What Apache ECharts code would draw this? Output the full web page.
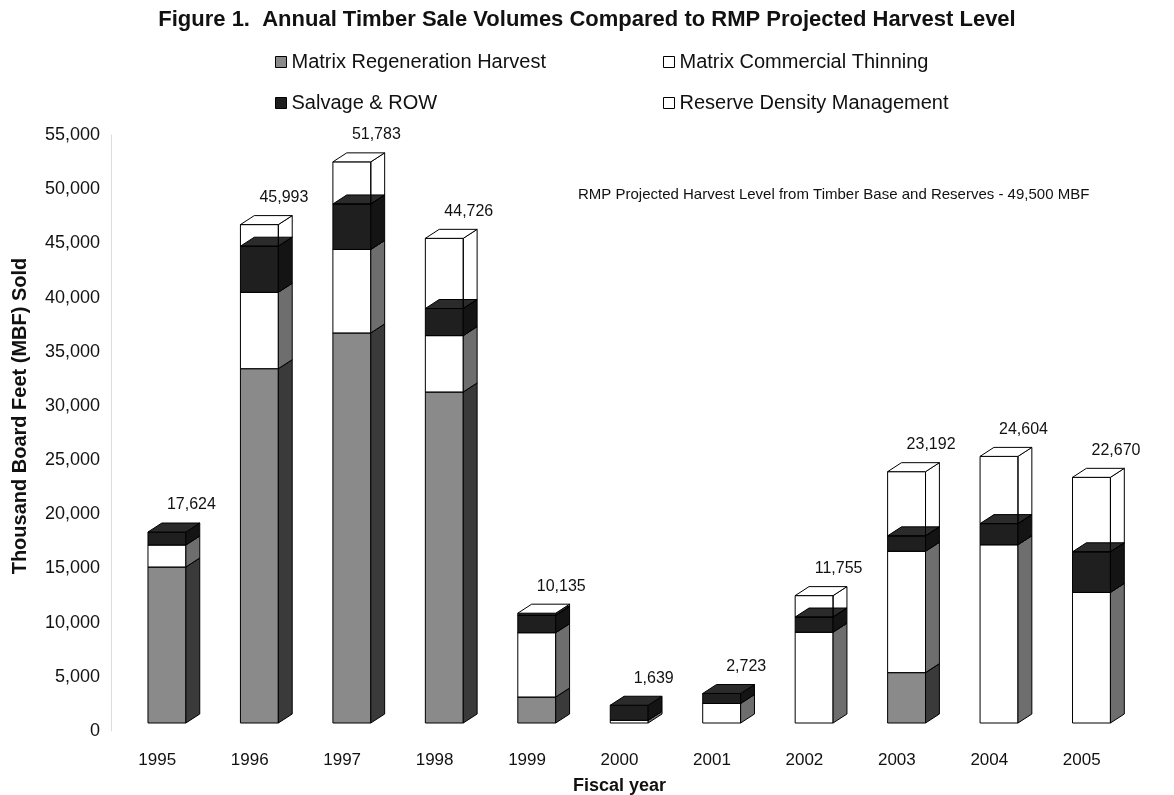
<!DOCTYPE html>
<html>
<head>
	<meta charset="utf-8">
	<title>Figure 1. Annual Timber Sale Volumes</title>
	<script src="https://cdn.jsdelivr.net/npm/echarts@6/dist/echarts.min.js"></script>
	<style type="text/css">
		html, body { margin: 0; padding: 0; background: #ffffff; }
		#chart { width: 1174px; height: 795px; }
	</style>
</head>
<body>
	<div id="chart"></div>
	<script type="text/javascript">
		// data (MBF)
		var years = ['1995', '1996', '1997', '1998', '1999', '2000', '2001', '2002', '2003', '2004', '2005'];
		var regen = [14400, 32700, 36000, 30550, 2400, 0, 0, 0, 4650, 0, 0];
		var thinning = [2030, 7050, 7700, 5200, 5935, 250, 1800, 8380, 11200, 16450, 12050];
		var salvage = [1194, 4250, 4200, 2500, 1600, 1389, 923, 1400, 1420, 1950, 3750];
		var reserve = [0, 1993, 3883, 6476, 200, 0, 0, 1975, 5922, 6204, 6870];
		var totals = [17624, 45993, 51783, 44726, 10135, 1639, 2723, 11755, 23192, 24604, 22670];
		var yTicks = [0, 5000, 10000, 15000, 20000, 25000, 30000, 35000, 40000, 45000, 50000, 55000];

		var FONT = '"Liberation Sans", Arial, sans-serif';

		// box geometry (fractions of the category band)
		function box(api, i, lo, hi) {
			var p0 = api.coord([i, lo]);
			var p1 = api.coord([i, hi]);
			var band = api.size([1, 0])[0];
			var w = band * 0.41;
			var x = p0[0] - band * 0.1;
			var dx = band * 0.15;
			var dy = 9;
			var lift = 8;
			return { x: x, w: w, dx: dx, dy: dy, yb: p0[1] - lift, yt: p1[1] - lift };
		}

		function makeRender(cols) {
			return function (params, api) {
				var i = api.value(0), lo = api.value(1), hi = api.value(2);
				if (hi - lo <= 0) return;
				var b = box(api, i, lo, hi);
				return {
					type: 'group',
					children: [
						{ type: 'rect', shape: { x: b.x, y: b.yt, width: b.w, height: b.yb - b.yt },
						  style: { fill: cols.front, stroke: '#000', lineWidth: 1 } },
						{ type: 'polygon', shape: { points: [[b.x + b.w, b.yb], [b.x + b.w + b.dx, b.yb - b.dy], [b.x + b.w + b.dx, b.yt - b.dy], [b.x + b.w, b.yt]] },
						  style: { fill: cols.side, stroke: '#000', lineWidth: 1 } },
						{ type: 'polygon', shape: { points: [[b.x, b.yt], [b.x + b.dx, b.yt - b.dy], [b.x + b.w + b.dx, b.yt - b.dy], [b.x + b.w, b.yt]] },
						  style: { fill: cols.top, stroke: '#000', lineWidth: 1 } }
					]
				};
			};
		}

		// stack bottom to top
		var stacks = [regen, thinning, salvage, reserve];
		function stackData(k) {
			var out = [];
			for (var i = 0; i < years.length; i++) {
				var base = 0;
				for (var s = 0; s < k; s++) base += stacks[s][i];
				out.push([i, base, base + stacks[k][i]]);
			}
			return out;
		}

		var names = ['Matrix Regeneration Harvest', 'Matrix Commercial Thinning', 'Salvage & ROW', 'Reserve Density Management'];
		var legendCols = ['#8a8a8a', '#ffffff', '#1e1e1e', '#ffffff'];
		var faces = [
			{ front: '#8a8a8a', side: '#3a3a3a', top: '#6a6a6a' },
			{ front: '#ffffff', side: '#6e6e6e', top: '#ffffff' },
			{ front: '#1f1f1f', side: '#141414', top: '#2b2b2b' },
			{ front: 'rgba(255,255,255,0)', side: 'rgba(255,255,255,0)', top: '#ffffff' }
		];

		var series = [];
		for (var k = 0; k < 4; k++) {
			series.push({
				name: names[k],
				type: 'custom',
				renderItem: makeRender(faces[k]),
				itemStyle: { color: legendCols[k], borderColor: '#000', borderWidth: 1 },
				encode: { x: 0, y: [1, 2] },
				data: stackData(k),
				z: 2
			});
		}
		var totalData = [];
		for (var i = 0; i < years.length; i++) totalData.push([i, 0, totals[i]]);
		series.push({
			name: 'Total',
			type: 'custom',
			renderItem: function (params, api) {
				var i = api.value(0), v = api.value(2);
				var b = box(api, i, 0, v);
				var band = api.size([1, 0])[0];
				return {
					type: 'text',
					style: {
						text: echarts.format.addCommas(v),
						x: api.coord([i, 0])[0] + band * 0.37,
						y: b.yt - 27,
						align: 'center', verticalAlign: 'middle',
						font: '16px ' + FONT, fill: '#111'
					}
				};
			},
			encode: { x: 0, y: [1, 2] },
			data: totalData,
			z: 3
		});

		var myChart = echarts.init(document.getElementById('chart'));
		var option = {
			backgroundColor: '#ffffff',
			animation: false,
			title: {
				text: 'Figure 1.  Annual Timber Sale Volumes Compared to RMP Projected Harvest Level',
				left: 'center',
				top: 4,
				textStyle: { fontFamily: FONT, fontSize: 22, fontWeight: 'bold', color: '#111' }
			},
			legend: [
				{
					left: 270, top: 46, orient: 'vertical', itemGap: 19,
					itemWidth: 11, itemHeight: 11, icon: 'rect',
					itemStyle: { borderColor: '#000', borderWidth: 1 },
					textStyle: { fontFamily: FONT, fontSize: 20, color: '#111', lineHeight: 22 },
					data: [names[0], names[2]]
				},
				{
					left: 658, top: 46, orient: 'vertical', itemGap: 19,
					itemWidth: 11, itemHeight: 11, icon: 'rect',
					itemStyle: { borderColor: '#000', borderWidth: 1 },
					textStyle: { fontFamily: FONT, fontSize: 20, color: '#111', lineHeight: 22 },
					data: [names[1], names[3]]
				}
			],
			grid: { left: 111, right: 46, top: 135, bottom: 64, outerBoundsMode: 'none' },
			xAxis: {
				type: 'category',
				data: years,
				name: 'Fiscal year',
				nameLocation: 'middle',
				nameGap: 46,
				nameTextStyle: { fontFamily: FONT, fontSize: 18, fontWeight: 'bold', color: '#111' },
				axisLine: { show: false },
				axisTick: { show: false },
				axisLabel: { fontFamily: FONT, fontSize: 17, color: '#111', margin: 21 }
			},
			yAxis: {
				type: 'value',
				min: yTicks[0],
				max: yTicks[yTicks.length - 1],
				interval: 5000,
				axisLine: { show: true, lineStyle: { color: '#dddddd' } },
				axisTick: { show: false },
				splitLine: { show: false },
				axisLabel: {
					fontFamily: FONT, fontSize: 18, color: '#111', margin: 11,
					formatter: function (v) { return echarts.format.addCommas(v); }
				}
			},
			graphic: [
				{
					type: 'text',
					x: 20, y: 416, rotation: Math.PI / 2,
					style: {
						text: 'Thousand Board Feet (MBF) Sold',
						align: 'center', verticalAlign: 'middle',
						font: 'bold 20px ' + FONT, fill: '#111'
					}
				},
				{
					type: 'text',
					left: 578, top: 187,
					style: {
						text: 'RMP Projected Harvest Level from Timber Base and Reserves - 49,500 MBF',
						font: '15px ' + FONT, fill: '#111'
					}
				}
			],
			series: series
		};
		myChart.setOption(option);
	</script>
</body>
</html>
